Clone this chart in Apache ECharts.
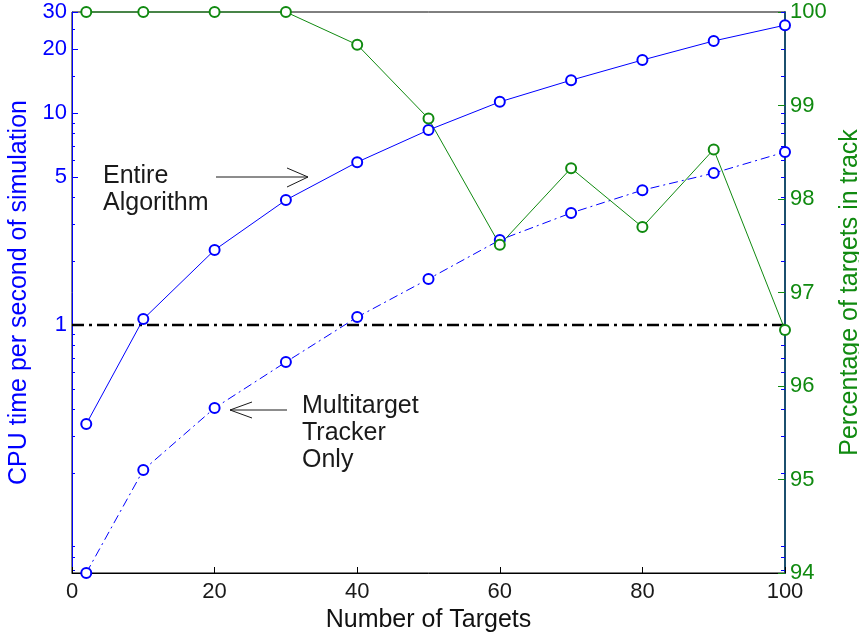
<!DOCTYPE html>
<html><head><meta charset="utf-8">
<script src="https://cdn.jsdelivr.net/npm/echarts@6/dist/echarts.min.js"></script>
<style>html,body{margin:0;padding:0;background:#fff}#c{width:859px;height:637px}</style>
</head><body><div id="c"></div>
<script>
// ---- data ----
const targets = [2, 10, 20, 30, 40, 50, 60, 70, 80, 90, 100];
const cpuEntire = [0.341, 1.067, 2.26, 3.89, 5.87, 8.32, 11.3, 14.3, 17.8, 21.9, 26.0];
const cpuTracker = [0.0676, 0.207, 0.406, 0.669, 1.09, 1.65, 2.52, 3.38, 4.33, 5.21, 6.55];
const pctInTrack = [100, 100, 100, 100, 99.65, 98.86, 97.51, 98.33, 97.70, 98.53, 96.60];
const thresholdX = [0, 100];
const thresholdY = [1, 1];
const xTicks = [0, 20, 40, 60, 80, 100];
const cpuTickLabels = [1, 5, 10, 20, 30];
const cpuMinorTicks = [0.07, 0.08, 0.09, 0.2, 0.3, 0.4, 0.5, 0.6, 0.7, 0.8, 0.9, 2, 3, 4, 6, 7, 8, 9, 15, 25];
const pctTicks = [94, 95, 96, 97, 98, 99, 100];
const cpuRange = [0.0676, 30];
const pctRange = [94, 100];

const FONT = '"Liberation Sans", Arial, Helvetica, sans-serif';
const BLUE = '#0000ff';
const GREEN = '#108a10';

const pair = (xs, ys) => xs.map((x, i) => [x, ys[i]]);

const chart = echarts.init(document.getElementById('c'), null, { renderer: 'canvas' });

const logAxisBase = {
  type: 'log', logBase: 10, min: cpuRange[0], max: cpuRange[1],
  splitLine: { show: false }, minorTick: { show: false }, minorSplitLine: { show: false }
};

chart.setOption({
  animation: false,
  backgroundColor: '#fff',
  grid: { left: 72, right: 74, top: 12, bottom: 64, outerBoundsMode: 'none', containLabel: false,
          show: true, borderColor: '#000', borderWidth: 1, backgroundColor: 'transparent' },
  xAxis: [{
    type: 'value', min: 0, max: 100, interval: 20,
    name: 'Number of Targets', nameLocation: 'middle', nameGap: 28,
    nameTextStyle: { fontFamily: FONT, fontSize: 25, color: '#111' },
    axisLine: { onZero: false, lineStyle: { color: '#000', width: 1 } },
    axisTick: { inside: true, length: 6, lineStyle: { color: '#000' }, customValues: xTicks },
    axisLabel: { fontFamily: FONT, fontSize: 22, color: '#1a1a1a', margin: 8, customValues: xTicks },
    splitLine: { show: false }
  }],
  yAxis: [
    Object.assign({}, logAxisBase, {
      position: 'left',
      name: 'CPU time per second of simulation', nameLocation: 'middle', nameRotate: 90, nameGap: 35,
      nameTextStyle: { fontFamily: FONT, fontSize: 25, color: BLUE },
      axisLine: { show: true, lineStyle: { color: BLUE, width: 1 } },
      axisTick: { show: true, inside: true, length: 6, lineStyle: { color: BLUE }, customValues: cpuTickLabels },
      axisLabel: { fontFamily: FONT, fontSize: 22, color: BLUE, margin: 5, customValues: cpuTickLabels, formatter: v => String(Math.round(v * 100) / 100) }
    }),
    {
      type: 'value', position: 'right', min: pctRange[0], max: pctRange[1], interval: 1,
      name: 'Percentage of targets in track', nameLocation: 'middle', nameRotate: 90, nameGap: 49,
      nameTextStyle: { fontFamily: FONT, fontSize: 25, color: GREEN },
      axisLine: { show: true, lineStyle: { color: '#1b4f6e', width: 2 } },
      axisTick: { show: true, inside: true, length: 7, lineStyle: { color: GREEN }, customValues: pctTicks },
      axisLabel: { fontFamily: FONT, fontSize: 22, color: GREEN, margin: 5, customValues: pctTicks },
      splitLine: { show: false }
    },
    Object.assign({}, logAxisBase, {
      position: 'left',
      axisLine: { show: false },
      axisTick: { show: true, inside: true, length: 3, lineStyle: { color: BLUE }, customValues: cpuMinorTicks },
      axisLabel: { show: false, customValues: cpuMinorTicks }
    }),
    Object.assign({}, logAxisBase, {
      position: 'right',
      axisLine: { show: false },
      axisTick: { show: true, inside: true, length: 4, lineStyle: { color: BLUE }, customValues: cpuMinorTicks.concat(cpuTickLabels) },
      axisLabel: { show: false, customValues: cpuMinorTicks }
    })
  ],
  series: [
    {
      name: 'threshold', type: 'line', yAxisIndex: 0, data: pair(thresholdX, thresholdY),
      symbol: 'none', lineStyle: { color: '#000', width: 2.5, type: [12, 5, 3, 5] }, z: 2
    },
    {
      name: 'Entire Algorithm', type: 'line', yAxisIndex: 0, data: pair(targets, cpuEntire),
      symbol: 'emptyCircle', symbolSize: 10, clip: false,
      lineStyle: { color: BLUE, width: 1 }, itemStyle: { color: BLUE, borderColor: BLUE, borderWidth: 1 }, z: 3
    },
    {
      name: 'Multitarget Tracker Only', type: 'line', yAxisIndex: 0, data: pair(targets, cpuTracker),
      symbol: 'emptyCircle', symbolSize: 10, clip: false,
      lineStyle: { color: BLUE, width: 1, type: [9, 4, 2, 4] }, itemStyle: { color: BLUE, borderColor: BLUE, borderWidth: 1 }, z: 3
    },
    {
      name: 'Percentage of targets in track', type: 'line', yAxisIndex: 1, data: pair(targets, pctInTrack),
      symbol: 'emptyCircle', symbolSize: 10, clip: false,
      lineStyle: { color: GREEN, width: 1 }, itemStyle: { color: GREEN, borderColor: GREEN, borderWidth: 1 }, z: 3
    }
  ],
  graphic: [
    { type: 'text', left: 103, top: 163, style: { text: 'Entire\nAlgorithm', font: '25px ' + FONT, fill: '#1a1a1a', lineHeight: 27 } },
    { type: 'polyline', shape: { points: [[216, 177], [308, 177]] }, style: { stroke: '#1a1a1a', lineWidth: 1, fill: null } },
    { type: 'polyline', shape: { points: [[287, 168], [308, 177], [287, 187]] }, style: { stroke: '#1a1a1a', lineWidth: 1, fill: null } },
    { type: 'text', left: 302, top: 393, style: { text: 'Multitarget\nTracker\nOnly', font: '25px ' + FONT, fill: '#1a1a1a', lineHeight: 27 } },
    { type: 'polyline', shape: { points: [[287, 410], [230, 410]] }, style: { stroke: '#1a1a1a', lineWidth: 1, fill: null } },
    { type: 'polyline', shape: { points: [[252, 402], [230, 410], [252, 418]] }, style: { stroke: '#1a1a1a', lineWidth: 1, fill: null } }
  ]
});
</script></body></html>
